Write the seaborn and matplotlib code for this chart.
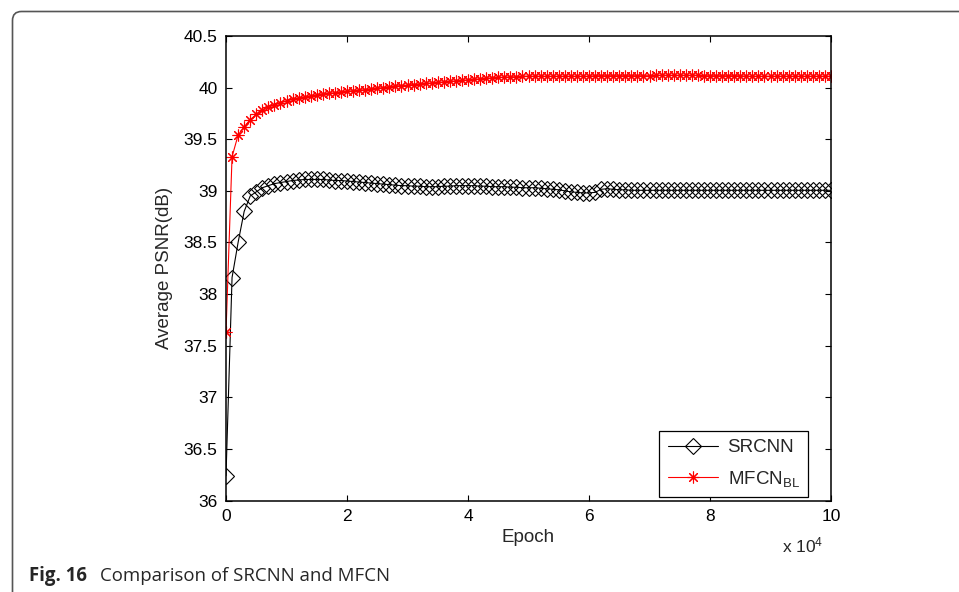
import matplotlib
matplotlib.use("Agg")
import matplotlib.pyplot as plt
from matplotlib.patches import FancyBboxPatch
import numpy as np
import pandas as pd
import seaborn as sns

# Training epochs (one sample every 1000 epochs)
epochs = list(range(0, 100001, 1000))

srcnn = [
    36.24, 38.16, 38.50, 38.80, 38.95, 38.99, 39.03, 39.05, 39.07, 39.08,
    39.09, 39.10, 39.105, 39.11, 39.11, 39.11, 39.11, 39.105, 39.10, 39.10,
    39.095, 39.09, 39.085, 39.08, 39.075, 39.07, 39.065, 39.06, 39.055, 39.05,
    39.05, 39.045, 39.045, 39.04, 39.04, 39.04, 39.045, 39.045, 39.05, 39.05,
    39.05, 39.05, 39.045, 39.045, 39.04, 39.04, 39.04, 39.035, 39.035, 39.03,
    39.03, 39.03, 39.025, 39.02, 39.015, 39.01, 39.0, 38.99, 38.985, 38.98,
    38.98, 38.985, 39.015, 39.02, 39.015, 39.01, 39.01, 39.005, 39.005, 39.005,
    39.005, 39.005, 39.005, 39.005, 39.005, 39.005, 39.005, 39.005, 39.005, 39.005,
    39.005, 39.005, 39.005, 39.005, 39.005, 39.005, 39.005, 39.005, 39.005, 39.005,
    39.005, 39.005, 39.005, 39.005, 39.005, 39.005, 39.005, 39.005, 39.005, 39.005,
    39.005,
]

mfcn_bl = [
    37.63, 39.33, 39.54, 39.62, 39.69, 39.74, 39.78, 39.81, 39.83, 39.85,
    39.87, 39.885, 39.90, 39.91, 39.92, 39.93, 39.94, 39.945, 39.95, 39.96,
    39.965, 39.97, 39.975, 39.98, 39.99, 39.995, 40.00, 40.01, 40.015, 40.02,
    40.025, 40.03, 40.035, 40.04, 40.045, 40.05, 40.055, 40.06, 40.065, 40.07,
    40.075, 40.08, 40.085, 40.09, 40.095, 40.10, 40.10, 40.105, 40.105, 40.11,
    40.11, 40.11, 40.11, 40.11, 40.11, 40.11, 40.11, 40.11, 40.11, 40.11,
    40.11, 40.115, 40.115, 40.115, 40.115, 40.115, 40.115, 40.115, 40.115, 40.115,
    40.115, 40.12, 40.12, 40.12, 40.12, 40.12, 40.12, 40.12, 40.12, 40.115,
    40.115, 40.115, 40.115, 40.115, 40.115, 40.115, 40.11, 40.11, 40.11, 40.11,
    40.11, 40.11, 40.11, 40.11, 40.11, 40.11, 40.11, 40.11, 40.11, 40.11,
    40.11,
]

x_ticks = [0, 20000, 40000, 60000, 80000, 100000]
x_tick_labels = ["0", "2", "4", "6", "8", "10"]
y_ticks = [36, 36.5, 37, 37.5, 38, 38.5, 39, 39.5, 40, 40.5]
y_tick_labels = ["36", "36.5", "37", "37.5", "38", "38.5", "39", "39.5", "40", "40.5"]

df = pd.DataFrame({"epoch": epochs, "SRCNN": srcnn, "MFCN": mfcn_bl})

sns.set_style("ticks")
plt.rcParams["font.family"] = ["Liberation Sans", "DejaVu Sans"]
plt.rcParams["mathtext.fontset"] = "custom"
plt.rcParams["mathtext.rm"] = "Liberation Sans"
plt.rcParams["mathtext.default"] = "regular"

W, H, DPI = 959, 592, 100
fig = plt.figure(figsize=(W / DPI, H / DPI), dpi=DPI)
ax = fig.add_axes([226 / W, 1 - 500.5 / H, (831 - 226) / W, (500.5 - 36) / H])

asterisk = (8, 2, 0)
sns.lineplot(data=df, x="epoch", y="SRCNN", ax=ax, color="black", lw=0.8,
             marker="D", markersize=7.8, markerfacecolor="none",
             markeredgecolor="black", markeredgewidth=0.8, label="SRCNN")
sns.lineplot(data=df, x="epoch", y="MFCN", ax=ax, color="red", lw=0.8,
             marker=asterisk, markersize=8.5, markeredgecolor="red",
             markeredgewidth=0.8, label="MFCN$_{BL}$")

ax.set_xlim(0, 100000)
ax.set_ylim(36, 40.5)
ax.set_xticks(x_ticks)
ax.set_xticklabels(x_tick_labels)
ax.set_yticks(y_ticks)
ax.set_yticklabels(y_tick_labels)
ax.tick_params(direction="in", top=True, right=True, length=4.5, width=0.8,
               labelsize=12.5, pad=6, colors="black")
for s in ax.spines.values():
    s.set_visible(True)
    s.set_linewidth(1.1)
    s.set_color("black")

ax.set_xlabel("Epoch", fontsize=13.5, labelpad=4)
ax.set_ylabel("Average PSNR(dB)", fontsize=13.5, labelpad=8)

fig.text(782 / W, 1 - 552 / H, "x 10$^{4}$", fontsize=12.5, ha="left",
         va="baseline")

leg = ax.legend(loc="lower right", fontsize=13.5, handlelength=2.7,
                frameon=True, fancybox=False, borderpad=0.45,
                labelspacing=0.65, handletextpad=0.5, borderaxespad=0,
                bbox_to_anchor=((808 - 226) / 605, (500.5 - 497) / 464.5))
leg.get_frame().set_edgecolor("black")
leg.get_frame().set_linewidth(0.9)
leg.get_frame().set_alpha(1)

# Rounded frame around the figure (open to the right and bottom)
frame = FancyBboxPatch((12.5 / DPI, -1.0), 20.0, (H - 11.5) / DPI + 1.0,
                       boxstyle="round,pad=0,rounding_size=0.09",
                       transform=fig.dpi_scale_trans, fill=False,
                       edgecolor="#555555", linewidth=1.2, clip_on=False)
fig.patches.append(frame)

fig.text(29 / W, 1 - 581 / H, "Fig. 16", fontsize=13.4, fontweight="bold",
         family=["Open Sans", "DejaVu Sans"], va="baseline", ha="left")
fig.text(100 / W, 1 - 581 / H, "Comparison of SRCNN and MFCN", fontsize=13.4,
         family=["Open Sans", "DejaVu Sans"], va="baseline", ha="left")

fig.savefig("out.png", dpi=DPI)
